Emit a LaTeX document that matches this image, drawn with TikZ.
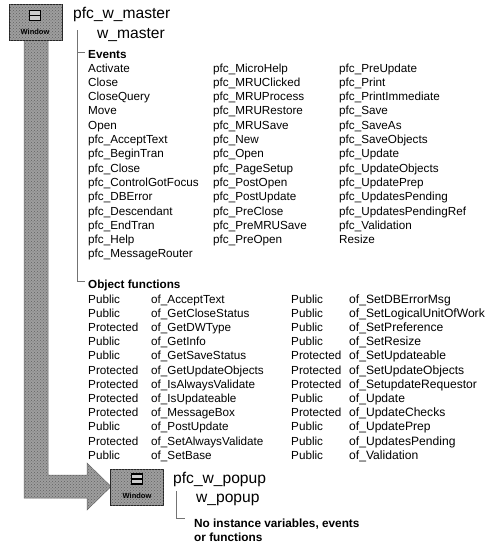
\documentclass[tikz,border=0pt]{standalone}
\usepackage{fontspec}
\setmainfont{Liberation Sans}
\usetikzlibrary{positioning,calc,patterns}
\tikzset{
  x=1pt, y=-1pt,
  item/.style    = {anchor=base west, inner sep=0pt, font=\fontsize{11.7}{13}\selectfont},
  itemw/.style   = {item, font=\fontsize{12.1}{13}\selectfont},
  head/.style    = {item, font=\fontsize{11.7}{13}\selectfont\bfseries},
  note/.style    = {item, font=\fontsize{11.8}{13}\selectfont\bfseries},
  title/.style   = {anchor=base west, inner sep=0pt, font=\fontsize{15.6}{18}\selectfont},
  tree/.style    = {line width=0.6pt, black!55, shorten >=3pt},
  dither/.style  = {fill=black!38, postaction={pattern=crosshatch dots, pattern color=black!62}},
  winbox/.style  = {draw=black!85, line width=1pt, dither, minimum width=53pt, minimum height=36pt, inner sep=0pt},
  winlbl/.style  = {inner sep=0pt, font=\fontsize{7.5}{8}\selectfont\bfseries},
  glyph/.style   = {draw=black, line width=1.6pt, fill=black!20, minimum width=11pt, minimum height=10pt, inner sep=0pt},
}
\begin{document}
\begin{tikzpicture}
  \useasboundingbox (0,0) rectangle (487,546);
  % inheritance arrow
  \draw[black!60, line width=0.5pt, dither] (24,38)--(48,38)--(48,475)--(87,475)--(87,463)--(111,486.5)--(87,510)--(87,498)--(24,498)--cycle;
  % window icons
  \node[winbox] (master) at (35.5,22) {};
  \node[glyph] (mglyph) at (35,15.5) {};
  \draw[line width=1.2pt] (mglyph.west)--(mglyph.east);
  \node[winlbl] at (35,32) {Window};
  \node[winbox] (popup) at (137,487) {};
  \node[glyph] (pglyph) at (137,479) {};
  \draw[line width=1.2pt] (pglyph.west)--(pglyph.east);
  \node[winlbl] at (137,496) {Window};
  % pfc_w_master
  \node[title] (pfcmaster) at (73,18) {pfc\_w\_master};
  \node[title] (wmaster) at (97,38) {w\_master};
  \node[head] (events) at (88,58) {Events};
  \coordinate (mroot) at (77,30);
  \draw[tree] (mroot)|-($(events.west)+(0,-2)$);
  % events
  \foreach \name [count=\i from 0] in {Activate,Close,CloseQuery,Move,Open,pfc\_AcceptText,pfc\_BeginTran,pfc\_Close,pfc\_ControlGotFocus,pfc\_DBError,pfc\_Descendant,pfc\_EndTran,pfc\_Help,pfc\_MessageRouter}
    \node[item] (ea\i) at (88,72+14.3*\i) {\name};
  \foreach \name [count=\i from 0] in {pfc\_MicroHelp,pfc\_MRUClicked,pfc\_MRUProcess,pfc\_MRURestore,pfc\_MRUSave,pfc\_New,pfc\_Open,pfc\_PageSetup,pfc\_PostOpen,pfc\_PostUpdate,pfc\_PreClose,pfc\_PreMRUSave,pfc\_PreOpen}
    \node[item] (eb\i) at (213,72+14.3*\i) {\name};
  \foreach \name [count=\i from 0] in {pfc\_PreUpdate,pfc\_Print,pfc\_PrintImmediate,pfc\_Save,pfc\_SaveAs,pfc\_SaveObjects,pfc\_Update,pfc\_UpdateObjects,pfc\_UpdatePrep,pfc\_UpdatesPending,pfc\_UpdatesPendingRef,pfc\_Validation,Resize}
    \node[item] (ec\i) at (339,72+14.3*\i) {\name};
  % object functions
  \node[head] (funcs) at (88,288) {Object functions};
  \draw[tree] (mroot)|-($(funcs.west)+(0,-3.5)$);
  \foreach \acc/\name [count=\i from 0] in {Public/AcceptText,Public/GetCloseStatus,Protected/GetDWType,Public/GetInfo,Public/GetSaveStatus,Protected/GetUpdateObjects,Protected/IsAlwaysValidate,Protected/IsUpdateable,Protected/MessageBox,Public/PostUpdate,Protected/SetAlwaysValidate,Public/SetBase}{
    \node[item] (fa\i) at (88,303+14.2*\i) {\acc};
    \node[item] (fb\i) at (151,303+14.2*\i) {of\_\name};
  }
  \foreach \acc/\name [count=\i from 0] in {Public/SetDBErrorMsg,Public/SetLogicalUnitOfWork,Public/SetPreference,Public/SetResize,Protected/SetUpdateable,Protected/SetUpdateObjects,Protected/SetupdateRequestor,Public/Update,Protected/UpdateChecks,Public/UpdatePrep,Public/UpdatesPending,Public/Validation}{
    \node[item] (fc\i) at (291,303+14.2*\i) {\acc};
    \node[itemw] (fd\i) at (349,303+14.2*\i) {of\_\name};
  }
  % pfc_w_popup
  \node[title] (pfcpopup) at (173,483) {pfc\_w\_popup};
  \node[title] (wpopup) at (196,502) {w\_popup};
  \node[note] (novars) at (194,527) {No instance variables, events};
  \node[note] (nofuncs) at (194,541) {or functions};
  \coordinate (proot) at (176,491);
  \coordinate (ptick) at (188,518);
  \draw[tree] (proot)|-(ptick);
\end{tikzpicture}
\end{document}
